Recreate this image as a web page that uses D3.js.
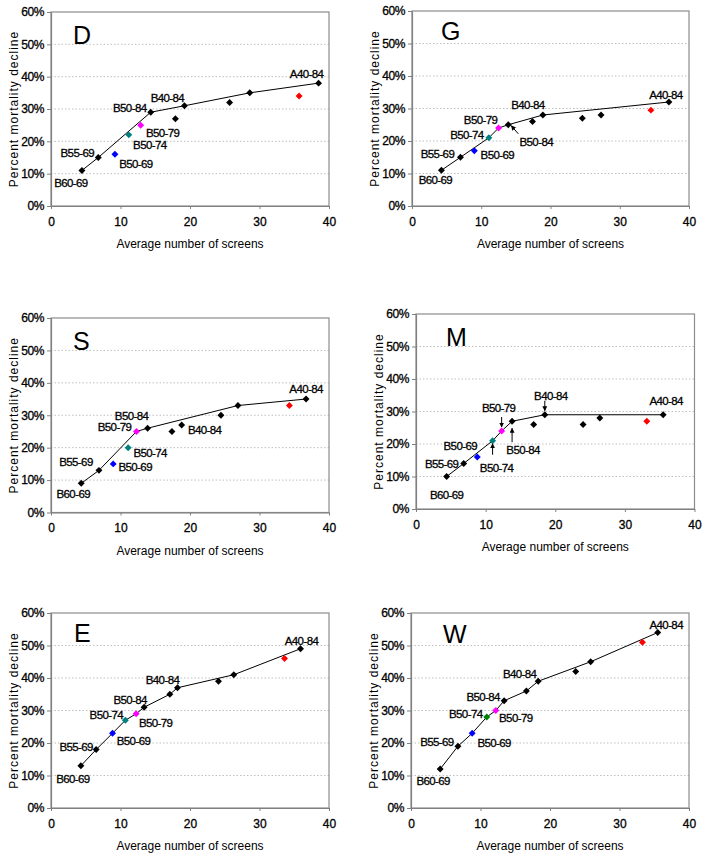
<!DOCTYPE html>
<html>
<head>
<meta charset="utf-8">
<script src="https://cdn.jsdelivr.net/npm/d3@7/dist/d3.min.js"></script>
<style>
  html, body { margin: 0; padding: 0; background: #fff; }
  svg { display: block; font-family: "Liberation Sans", Arial, sans-serif; }
</style>
</head>
<body>
<svg id="chart" width="705" height="861"></svg>
<script>
// ---------- data ----------
const cohorts = ["B60-69","B55-69","B50-69","B50-74","B50-79","B50-84","x1","B40-84","x2","x3","x4","A40-84"];
const kinds   = ["base","base","blue","teal","magenta","base","base","base","base","base","red","base"];
const panelNames = ["D","G","S","M","E","W"];
const xTicks = [0, 10, 20, 30, 40];
const yTicks = [0, 0.1, 0.2, 0.3, 0.4, 0.5, 0.6];

const screensD = [4.45, 6.8, 9.2, 11.2, 12.9, 14.35, 17.9, 19.2, 25.7, 28.6, 35.7, 38.5];
const declineD = [11, 15, 16, 22, 25, 29, 27, 31, 32, 35, 34, 38];
const trendD   = ["B60-69","B55-69","B50-84","B40-84","x3","A40-84"];

const screensG = [4.25, 7.0, 9.0, 11.1, 12.5, 13.9, 17.4, 18.9, 24.6, 27.3, 34.5, 37.1];
const declineG = [11, 15, 17, 21, 24, 25, 26, 28, 27, 28, 29.5, 32];
const trendG   = ["B60-69","B55-69","B50-74","B50-79","B50-84","B40-84","A40-84"];

const screensS = [4.35, 6.9, 8.95, 11.1, 12.3, 13.9, 17.4, 18.8, 24.45, 26.9, 34.3, 36.7];
const declineS = [9, 13, 15, 20, 25, 26, 25, 27, 30, 33, 33, 35];
const trendS   = ["B60-69","B55-69","B50-79","B50-84","x3","A40-84"];

const screensM = [4.4, 6.85, 8.8, 11.0, 12.3, 13.8, 16.9, 18.5, 24.0, 26.4, 33.15, 35.5];
const declineM = [10, 14, 16, 21, 24, 27, 26, 29, 26, 28, 27, 29];
const trendM   = ["B60-69","B55-69","B50-74","B50-79","B50-84","B40-84","A40-84"];

const screensE = [4.3, 6.5, 8.85, 10.7, 12.25, 13.4, 17.1, 18.2, 24.1, 26.3, 33.6, 35.9];
const declineE = [13, 18, 23, 27, 29, 31, 35, 37, 39, 41, 46, 49];
const trendE   = ["B60-69","B55-69","B50-69","B50-74","B50-79","B50-84","x1","B40-84","x3","A40-84"];

const screensW = [4.2, 6.75, 8.8, 10.9, 12.2, 13.4, 16.6, 18.3, 23.7, 25.85, 33.3, 35.5];
const declineW = [12, 19, 23, 28, 30, 33, 36, 39, 42, 45, 51, 54];
const trendW   = ["B60-69","B55-69","B50-69","B50-74","B50-79","B50-84","x1","B40-84","x3","A40-84"];

// ---------- layout / style ----------
const colors = { base: "#000000", blue: "#0000ff", teal: "#008080", magenta: "#ff00ff", red: "#ff0000", green: "#008000" };

const panels = [
  { name: "D", screens: screensD, decline: declineD, trend: trendD,
    box: [51, 12, 278, 194], letter: [22, 32],
    labels: { "B60-69": [-11, 13], "B55-69": [-21, -5], "B50-69": [21, 10], "B50-74": [21, 10],
              "B50-79": [22, 8], "B50-84": [-21, -4], "B40-84": [-17, -8], "A40-84": [-12, -9] },
    arrows: [] },
  { name: "G", screens: screensG, decline: declineG, trend: trendG,
    box: [412, 11, 277, 195], letter: [29, 29],
    labels: { "B60-69": [-6, 10], "B55-69": [-23, -3], "B50-69": [23, 4], "B50-74": [-22, -3],
              "B50-79": [-18, -8], "B50-84": [28, 17], "B40-84": [-15, -10], "A40-84": [-3, -7] },
    arrows: [["B50-84", 10, 9, 3, 1]] },
  { name: "S", screens: screensS, decline: declineS, trend: trendS,
    box: [51, 318, 278, 194.5], letter: [22, 32],
    labels: { "B60-69": [-8, 11], "B55-69": [-23, -8], "B50-69": [22, 3], "B50-74": [22, 5],
              "B50-79": [-22, -4], "B50-84": [-16, -12], "B40-84": [23, 5], "A40-84": [0, -10] },
    arrows: [] },
  { name: "M", screens: screensM, decline: declineM, trend: trendM,
    box: [416, 314, 278.5, 195], letter: [30, 32],
    labels: { "B60-69": [0, 18], "B55-69": [-22, 0], "B50-69": [-17, -11], "B50-74": [4, 27],
              "B50-79": [-3, -23], "B50-84": [11, 28.5], "B40-84": [6, -19], "A40-84": [3, -14] },
    arrows: [["B50-74", 0, 14, 0, 3], ["B50-79", 0, -14, 0, -4], ["B50-84", 0, 21, 0, 7], ["B40-84", 0, -14, 0, -4]] },
  { name: "E", screens: screensE, decline: declineE, trend: trendE,
    box: [51, 613, 278, 195], letter: [23, 29],
    labels: { "B60-69": [-8, 13.5], "B55-69": [-20, -3], "B50-69": [21, 8], "B50-74": [-19, -5],
              "B50-79": [19.5, 9], "B50-84": [-14, -7], "B40-84": [-15, -8], "A40-84": [1, -8] },
    arrows: [] },
  { name: "W", screens: screensW, decline: declineW, trend: trendW,
    box: [411, 613, 278, 195], letter: [32, 30], greenTeal: true,
    labels: { "B60-69": [-7, 12], "B55-69": [-21, -4], "B50-69": [22, 9.5], "B50-74": [-21, -3],
              "B50-79": [20, 7.5], "B50-84": [-21, -4], "B40-84": [-18.5, -7], "A40-84": [8.5, -7.5] },
    arrows: [] }
];

const svg = d3.select("#chart");
const defs = svg.append("defs");
defs.append("marker").attr("id", "arrowhead")
  .attr("viewBox", "0 0 10 10").attr("refX", 9).attr("refY", 5)
  .attr("markerWidth", 5).attr("markerHeight", 5).attr("orient", "auto-start-reverse")
  .append("path").attr("d", "M0,0 L10,5 L0,10 z").attr("fill", "#000");

const diamond = d3.symbol().type(d3.symbolSquare).size(24);

panels.forEach(p => {
  const [left, top, w, h] = p.box;
  const g = svg.append("g").attr("transform", `translate(${left},${top})`);
  const x = d3.scaleLinear().domain([0, 40]).range([0, w]);
  const y = d3.scaleLinear().domain([0, 0.6]).range([h, 0]);

  // gridlines
  g.append("g").selectAll("line").data(yTicks.slice(1, -1)).join("line")
    .attr("x1", 0).attr("x2", w).attr("y1", d => y(d)).attr("y2", d => y(d))
    .attr("stroke", "#bfbfbf").attr("stroke-width", 1).attr("stroke-dasharray", "1.5,2");

  // frame
  g.append("rect").attr("x", 0).attr("y", 0).attr("width", w).attr("height", h)
    .attr("fill", "none").attr("stroke", "#8c8c8c").attr("stroke-width", 1.2);

  // axes
  const xa = g.append("g").attr("transform", `translate(0,${h})`)
    .call(d3.axisBottom(x).tickValues(xTicks).tickSize(3).tickSizeOuter(0).tickPadding(8));
  const ya = g.append("g")
    .call(d3.axisLeft(y).tickValues(yTicks).tickFormat(d3.format(".0%")).tickSize(4).tickSizeOuter(0).tickPadding(3));
  [xa, ya].forEach(a => {
    a.select(".domain").attr("stroke", "#808080").attr("stroke-width", 1.2);
    a.selectAll(".tick line").attr("stroke", "#808080");
    a.selectAll(".tick text").attr("fill", "#000").attr("font-size", 12)
      .attr("stroke", "#000").attr("stroke-width", 0.3)
      .attr("font-family", "'Liberation Sans', Arial, sans-serif");
  });
  ya.selectAll(".tick text").attr("letter-spacing", "-0.4px");

  // axis titles
  g.append("text").attr("x", w / 2).attr("y", h + 42).attr("text-anchor", "middle")
    .attr("font-size", 12).attr("fill", "#000").text("Average number of screens");
  g.append("text").attr("transform", `translate(-33,${h / 2}) rotate(-90)`).attr("text-anchor", "middle")
    .attr("font-size", 12).attr("letter-spacing", "1px").attr("fill", "#000").text("Percent mortality decline");

  // panel letter
  g.append("text").attr("x", p.letter[0]).attr("y", p.letter[1])
    .attr("font-size", 25).attr("fill", "#000").text(p.name);

  const pts = cohorts.map((c, i) => ({ id: c, kind: kinds[i], sx: p.screens[i], dv: p.decline[i] / 100 }));
  const byId = Object.fromEntries(pts.map(d => [d.id, d]));

  // trend line
  const line = d3.line().x(d => x(d.sx)).y(d => y(d.dv));
  g.append("path").datum(p.trend.map(id => byId[id]))
    .attr("d", line).attr("fill", "none").attr("stroke", "#000").attr("stroke-width", 1);

  // markers
  g.append("g").selectAll("path").data(pts).join("path")
    .attr("d", diamond)
    .attr("transform", d => `translate(${x(d.sx)},${y(d.dv)}) rotate(45)`)
    .attr("fill", d => (d.kind === "teal" && p.greenTeal) ? colors.green : colors[d.kind]);

  // arrows
  g.append("g").selectAll("line").data(p.arrows).join("line")
    .attr("x1", a => x(byId[a[0]].sx) + a[1]).attr("y1", a => y(byId[a[0]].dv) + a[2])
    .attr("x2", a => x(byId[a[0]].sx) + a[3]).attr("y2", a => y(byId[a[0]].dv) + a[4])
    .attr("stroke", "#000").attr("stroke-width", 1).attr("marker-end", "url(#arrowhead)");

  // labels
  g.append("g").selectAll("text").data(pts.filter(d => p.labels[d.id])).join("text")
    .attr("x", d => x(d.sx) + p.labels[d.id][0])
    .attr("y", d => y(d.dv) + p.labels[d.id][1])
    .attr("text-anchor", "middle").attr("dominant-baseline", "central")
    .attr("font-size", 11.5).attr("letter-spacing", "-0.6px").attr("fill", "#000")
    .attr("stroke", "#000").attr("stroke-width", 0.3)
    .text(d => d.id);
});
</script>
</body>
</html>
